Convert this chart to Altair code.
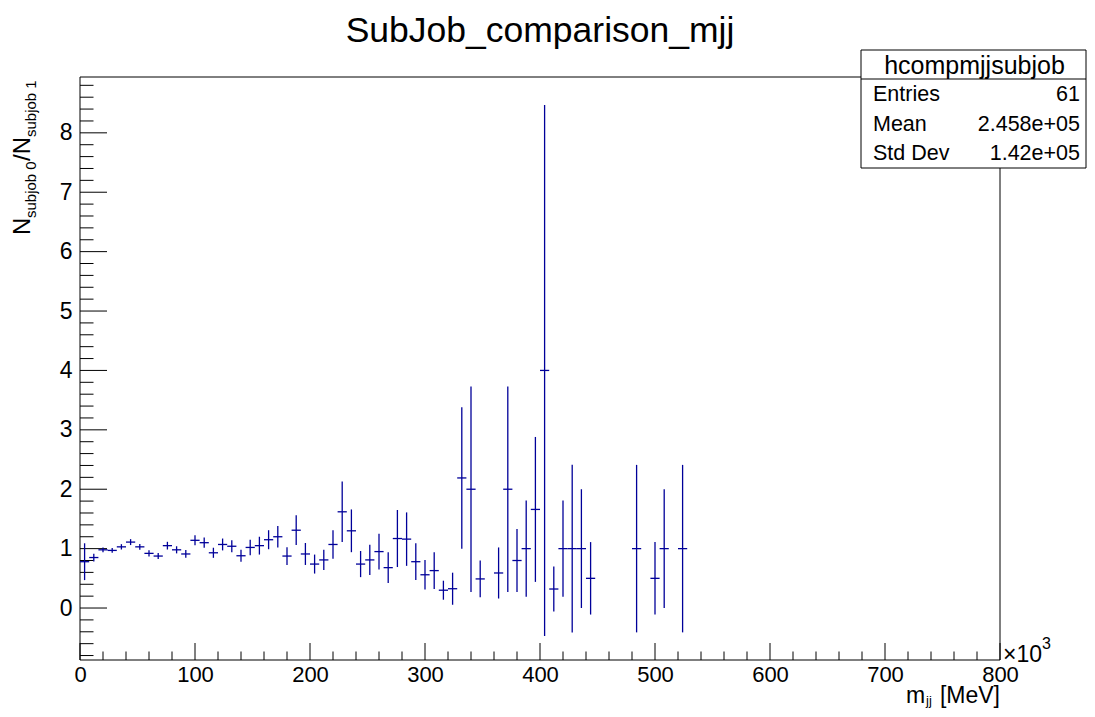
import altair as alt
import pandas as pd

# ---- data (x in units of 10^3 MeV, bin width 8) ----
bin_index = [0, 1, 2, 3, 4, 5, 6, 7, 8, 9, 10, 11, 12, 13, 14, 15, 16, 17, 18, 19,
             20, 21, 22, 23, 24, 25, 26, 27, 28, 29, 30, 31, 32, 33, 34, 35, 36, 37, 38, 39,
             40, 41, 42, 43, 45, 46, 47, 48, 49, 50, 51, 52, 53, 54, 55, 60, 62, 63, 65]
ratio = [0.78, 0.85, 0.98, 0.97, 1.03, 1.11, 1.03, 0.92, 0.875, 1.05, 0.98, 0.91, 1.14, 1.10, 0.93,
         1.07, 1.04, 0.88, 1.02, 1.05, 1.15, 1.20, 0.875, 1.31, 0.91, 0.74, 0.81, 1.07, 1.62, 1.30,
         0.74, 0.81, 0.95, 0.68, 1.17, 1.16, 0.78, 0.56, 0.63, 0.30, 0.325, 2.19, 2.0, 0.49,
         0.59, 2.0, 0.80, 1.0, 1.66, 4.0, 0.32, 1.0, 1.0, 1.0, 0.5, 1.0, 0.5, 1.0, 1.0]
ratio_err = [0.31, 0.065, 0.04, 0.04, 0.045, 0.05, 0.048, 0.053, 0.05, 0.065, 0.06, 0.065, 0.085,
             0.087, 0.085, 0.10, 0.10, 0.10, 0.13, 0.15, 0.16, 0.18, 0.15, 0.25, 0.185, 0.16, 0.17,
             0.24, 0.51, 0.36, 0.22, 0.255, 0.30, 0.26, 0.48, 0.45, 0.31, 0.25, 0.31, 0.16, 0.27,
             1.19, 1.73, 0.31, 0.43, 1.73, 0.53, 0.81, 1.22, 4.47, 0.38, 0.81, 1.41, 1.0, 0.61,
             1.41, 0.61, 1.0, 1.41]
bin_width = 8

x_major = list(range(0, 801, 100))
x_minor = [v for v in range(0, 801, 20) if v % 100 != 0]
y_major = list(range(0, 9))
y_minor = [round(-0.8 + 0.2 * i, 1) for i in range(49) if abs(round(-0.8 + 0.2 * i, 1) - round(-0.8 + 0.2 * i)) > 1e-6]

stats_rows = ["Entries", "Mean", "Std Dev"]
stats_vals = ["61", "2.458e+05", "1.42e+05"]

# ---- tables ----
df = pd.DataFrame({"i": bin_index, "v": ratio, "e": ratio_err})
df["c"] = df["i"] * bin_width + bin_width / 2
df["x0"] = df["i"] * bin_width
df["x1"] = df["i"] * bin_width + bin_width
df["lo"] = df["v"] - df["e"]
df["hi"] = df["v"] + df["e"]

W, H = 920, 583
FONT = "Liberation Sans"
COL = "#000099"

xs = alt.Scale(domain=[0, 800], nice=False, zero=False)
ys = alt.Scale(domain=[-0.875, 8.94], nice=False, zero=False)
xaxis = alt.Axis(values=x_major, format="d", title=None, ticks=False, domain=False, grid=False,
                 labelFont=FONT, labelFontSize=22, labelColor="black", labelPadding=4,
                 labelFlush=False, labelOverlap=False)
yaxis = alt.Axis(values=y_major, format="d", title=None, ticks=False, domain=False, grid=False,
                 labelFont=FONT, labelFontSize=23, labelColor="black", labelPadding=8,
                 labelOverlap=False)

one = alt.Data(values=[{}])

vbars = alt.Chart(df).mark_rule(color=COL, strokeWidth=1.3).encode(
    x=alt.X("c:Q", scale=xs, axis=xaxis),
    y=alt.Y("lo:Q", scale=ys, axis=yaxis),
    y2="hi:Q",
)
hbars = alt.Chart(df).mark_rule(color=COL, strokeWidth=1.3).encode(
    x=alt.X("x0:Q", scale=xs, axis=xaxis),
    x2="x1:Q",
    y=alt.Y("v:Q", scale=ys, axis=yaxis),
)

xmaj = alt.Chart(pd.DataFrame({"t": x_major})).mark_rule(color="black", strokeWidth=1).encode(
    x=alt.X("t:Q", scale=xs, axis=xaxis), y=alt.value(H), y2=alt.value(H - 17))
xmin = alt.Chart(pd.DataFrame({"t": x_minor})).mark_rule(color="black", strokeWidth=1).encode(
    x=alt.X("t:Q", scale=xs, axis=xaxis), y=alt.value(H), y2=alt.value(H - 8.5))
ymaj = alt.Chart(pd.DataFrame({"t": y_major})).mark_rule(color="black", strokeWidth=1).encode(
    y=alt.Y("t:Q", scale=ys, axis=yaxis), x=alt.value(0), x2=alt.value(27))
ymin = alt.Chart(pd.DataFrame({"t": y_minor})).mark_rule(color="black", strokeWidth=1).encode(
    y=alt.Y("t:Q", scale=ys, axis=yaxis), x=alt.value(0), x2=alt.value(13.5))

# frame (box top/right are hidden behind stats box)
BX0, BX1, BY0, BY1, BSEP = 781, 1006, -27, 91, 2


def rule(x, x2, y, y2, col="black", w=1):
    return alt.Chart(one).mark_rule(color=col, strokeWidth=w).encode(
        x=alt.value(x), x2=alt.value(x2), y=alt.value(y), y2=alt.value(y2))


frame = [
    rule(0, 0, 0, H),
    rule(0, W, H, H),
    rule(0, BX0, 0, 0),
    rule(W, W, BY1, H),
]

box = alt.Chart(one).mark_rect(fill="white", stroke="black", strokeWidth=1).encode(
    x=alt.value(BX0), x2=alt.value(BX1), y=alt.value(BY0), y2=alt.value(BY1))
sep = rule(BX0, BX1, BSEP, BSEP)


def txt(s, x, y, size, align="left", baseline="alphabetic", angle=0):
    kw = dict(text=s, font=FONT, fontSize=size, align=align, baseline=baseline, color="black")
    if angle:
        kw["angle"] = angle
    return alt.Chart(one).mark_text(**kw).encode(x=alt.value(x), y=alt.value(y))


texts = [
    txt("SubJob_comparison_mjj", W / 2, -35, 35.5, align="center"),
    txt("hcompmjjsubjob", (BX0 + BX1) / 2 + 1, (BY0 + BSEP) / 2 + 1, 25, align="center", baseline="middle"),
]
row_h = (BY1 - BSEP) / 3
for k, (lab, val) in enumerate(zip(stats_rows, stats_vals)):
    yc = BSEP + row_h * (k + 0.5) + 1
    texts.append(txt(lab, BX0 + 12, yc, 21.5, baseline="middle"))
    texts.append(txt(val, BX1 - 6, yc, 21.5, align="right", baseline="middle"))

# x title m_jj [MeV] and x10^3
texts += [
    txt("m", 826, 626, 23),
    txt("jj", 846, 628, 13),
    txt("[MeV]", W, 626, 23, align="right"),
    txt("\u00d710", 923, 585, 23),
    txt("3", 962, 572, 16),
]
# y title N_{subjob 0}/N_{subjob 1} (rotated)
texts += [
    txt("N", -50, 158, 24, angle=270),
    txt("subjob 0", -44, 141, 15, angle=270),
    txt("/N", -50, 84, 24, angle=270),
    txt("subjob 1", -44, 60, 15, angle=270),
]

chart = alt.layer(
    xmin, xmaj, ymin, ymaj, *frame, vbars, hbars, box, sep, *texts
).properties(
    width=W, height=H,
    autosize=alt.AutoSizeParams(type="none"),
    padding={"left": 72, "top": 69, "right": 87, "bottom": 48},
    background="white",
).configure_view(stroke=None)

chart.save("out.html", embed_options={"renderer": "svg", "actions": False})
